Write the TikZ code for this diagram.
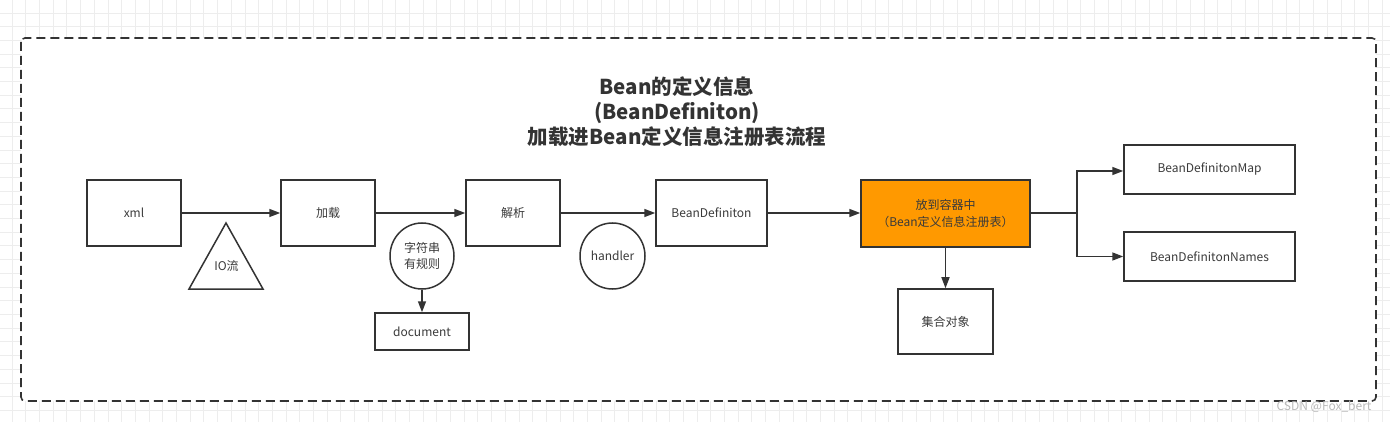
\documentclass[tikz,border=0pt]{standalone}
\usepackage{fontspec}
\setmainfont{Noto Sans CJK SC}
\usetikzlibrary{arrows.meta,shapes.geometric,calc}
\definecolor{ink}{HTML}{333333}
\definecolor{txt}{HTML}{3A3A3A}
\definecolor{orangebox}{HTML}{FF9900}
\definecolor{gridc}{HTML}{EDEDED}
\tikzset{
  box/.style={draw=ink, line width=1.5pt, fill=white, rectangle, inner sep=0pt, align=center,
    text=txt, font=\fontsize{12}{16}\selectfont},
  roundel/.style={draw=ink, line width=1.5pt, fill=white, ellipse, inner sep=0pt, align=center,
    text=txt, font=\fontsize{12}{16}\selectfont},
  flow/.style={draw=ink, line width=1.5pt, -{Triangle[length=11pt,width=8pt]}},
  gridline/.style={draw=gridc, line width=0.8pt},
}
\begin{document}
\begin{tikzpicture}[x=1pt,y=-1pt]
\useasboundingbox (0,0) rectangle (1390,422);
\fill[white] (0,0) rectangle (1390,422);
% canvas grid
\foreach \i in {0,...,101} {\draw[gridline] ({12+13.7*\i},0) -- ({12+13.7*\i},422);}
\foreach \j in {0,...,30} {\draw[gridline] (0,{13+13.7*\j}) -- (1390,{13+13.7*\j});}
% frame
\draw[draw=ink, line width=1.6pt, fill=white, dash pattern=on 9pt off 5pt, rounded corners=4pt]
  (21,38) rectangle (1376,401);
% title
\node[font=\fontsize{20.5}{25}\selectfont\bfseries, text=ink, align=center] (title) at (677,112)
  {Bean的定义信息\\(BeanDefiniton)\\加载进Bean定义信息注册表流程};
% nodes
\node[box, minimum width=94pt, minimum height=66pt] (xml) at (134,213) {xml};
\node[box, minimum width=94pt, minimum height=66pt] (load) at (328,213) {加载};
\node[box, minimum width=94pt, minimum height=66pt] (parse) at (513,213) {解析};
\node[box, minimum width=111pt, minimum height=66pt] (bd) at (711.5,213) {BeanDefiniton};
\node[box, fill=orangebox, minimum width=169pt, minimum height=67pt, font=\fontsize{12}{17}\selectfont] (reg) at (945.5,213.5)
  {放到容器中\\（Bean定义信息注册表）};
\node[box, minimum width=171pt, minimum height=49pt] (map) at (1209.5,169.5) {BeanDefinitonMap};
\node[box, minimum width=171pt, minimum height=49pt] (names) at (1209.5,256.5) {BeanDefinitonNames};
\node[box, minimum width=95pt, minimum height=65pt] (coll) at (945.5,321.5) {集合对象};
\node[box, minimum width=94pt, minimum height=37pt] (doc) at (422,331.5) {document};
\node[roundel, minimum width=64pt, minimum height=66pt] (str) at (422,256) {字符串\\有规则};
\node[roundel, minimum width=65pt, minimum height=66pt] (handler) at (612.5,256) {handler};
% triangle
\draw[draw=ink, line width=1.5pt, fill=white, line join=miter] (226,223) -- (263,289) -- (189,289) -- cycle;
\node[text=txt, font=\fontsize{12}{16}\selectfont] (io) at (226.5,266) {IO流};
% connectors
\draw[flow] (xml.east) -- (load.west);
\draw[flow] (load.east) -- (parse.west);
\draw[flow] (parse.east) -- (bd.west);
\draw[flow] (bd.east) -- (bd.east -| reg.west);
\coordinate (junc) at (1077,213);
\draw[draw=ink, line width=1.5pt] (reg.east |- junc) -- (junc);
\draw[flow] (junc) |- ($(map.west)+(0,1.5)$);
\draw[flow] (junc) |- (names.west);
\draw[flow] (reg.south) -- (coll.north);
\draw[flow] (str.south) -- (doc.north);
% watermark
\node[text=gray!55, font=\fontsize{12}{14}\selectfont, anchor=east] (wm) at (1375,407) {CSDN @Fox\_bert};
\end{tikzpicture}
\end{document}
